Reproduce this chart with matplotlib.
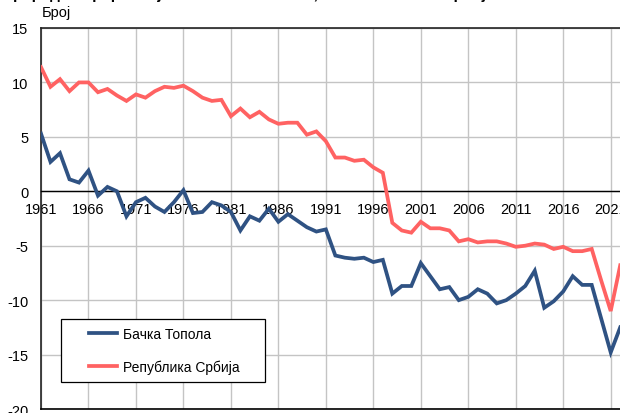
import matplotlib
matplotlib.use("Agg")
import matplotlib.pyplot as plt
from matplotlib.legend_handler import HandlerLine2D

plt.rcParams['font.family'] = ['Liberation Sans', 'DejaVu Sans']
plt.rcParams['axes.unicode_minus'] = False

# подаци
godine = list(range(1961, 2023))
backa_topola = [5.3, 2.7, 3.5, 1.1, 0.8, 1.9, -0.4, 0.4, 0.0, -2.3,
                -1.0, -0.6, -1.4, -1.9, -1.0, 0.1, -2.0, -1.9, -1.0, -1.3,
                -1.9, -3.6, -2.3, -2.7, -1.6, -2.8, -2.1, -2.7, -3.3, -3.7,
                -3.5, -5.9, -6.1, -6.2, -6.1, -6.5, -6.3, -9.4, -8.7, -8.7,
                -6.6, -7.8, -9.0, -8.8, -10.0, -9.7, -9.0, -9.4, -10.3, -10.0,
                -9.4, -8.7, -7.3, -10.7, -10.1, -9.2, -7.8, -8.6, -8.6, -11.7,
                -14.8, -12.5]
srbija = [11.4, 9.6, 10.3, 9.2, 10.0, 10.0, 9.1, 9.4, 8.8, 8.3,
          8.9, 8.6, 9.2, 9.6, 9.5, 9.7, 9.2, 8.6, 8.3, 8.4,
          6.9, 7.6, 6.8, 7.3, 6.6, 6.2, 6.3, 6.3, 5.2, 5.5,
          4.6, 3.1, 3.1, 2.8, 2.9, 2.2, 1.7, -2.9, -3.6, -3.8,
          -2.8, -3.4, -3.4, -3.6, -4.6, -4.4, -4.7, -4.6, -4.6, -4.8,
          -5.1, -5.0, -4.8, -4.9, -5.3, -5.1, -5.5, -5.5, -5.3, -8.2,
          -11.0, -6.8]
x_tikovi = list(range(1961, 2022, 5))
y_tikovi = list(range(-20, 16, 5))

plava = '#2f5283'
crvena = '#ff6262'

fig = plt.figure(figsize=(6.2, 4.14), dpi=100)
ax = fig.add_axes([41 / 620, 4 / 414, 588.7 / 620, 381 / 414])

ax.plot(godine, backa_topola, color=plava, lw=2.7, label='Бачка Топола',
        solid_joinstyle='miter', zorder=3)
ax.plot(godine, srbija, color=crvena, lw=2.7, label='Република Србија',
        solid_joinstyle='miter', zorder=3)

ax.set_xlim(1961, 2023)
ax.set_ylim(-20, 15)
ax.set_xticks(x_tikovi)
ax.set_yticks(y_tikovi)
ax.grid(True, color='#c4c4c4', lw=1)

# x osa preko nule
ax.spines['bottom'].set_position(('data', 0))
ax.spines['bottom'].set_linewidth(1)
ax.axhline(-20, color='black', lw=1.2, clip_on=False, zorder=4)
for s in ['top', 'left', 'right']:
    ax.spines[s].set_linewidth(1.2)
    ax.spines[s].set_color('#222222')
ax.tick_params(axis='x', length=0, pad=8, labelsize=10.5)
ax.tick_params(axis='y', length=0, pad=9, labelsize=10.5)

fig.text(42 / 620, 1 - 13 / 414, 'Број', fontsize=10.5, va='center', ha='left')
# naslov je odsečen na vrhu slike
fig.text(0.003, 1 + 1.5 / 414, 'Природни прираштај на 1000 становника, Бачка Топола и Србија',
         fontsize=11, fontweight='bold', va='baseline', ha='left')

leg = ax.legend(loc='lower left', bbox_to_anchor=(0.034, 0.071, 0.3465, 0.1),
                mode='expand', borderaxespad=0, fontsize=10, frameon=True,
                fancybox=False, edgecolor='black', framealpha=1,
                borderpad=0.6, handlelength=3.43, handletextpad=0.43,
                labelspacing=1.3,
                handler_map={plt.Line2D: HandlerLine2D(xpad=1.42)})
leg.get_frame().set_linewidth(0.9)

fig.savefig('out.png', dpi=100)
